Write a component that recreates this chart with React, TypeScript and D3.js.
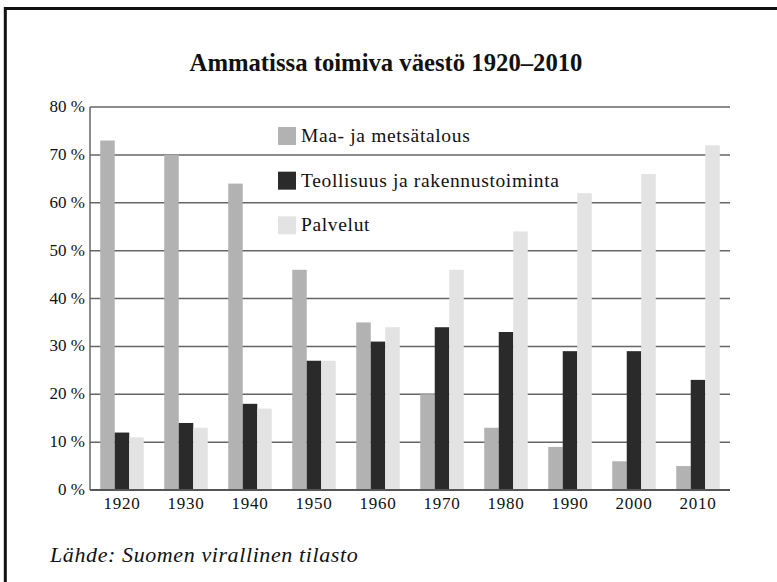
import * as d3 from "d3";

const years = ["1920", "1930", "1940", "1950", "1960", "1970", "1980", "1990", "2000", "2010"];
const seriesNames = ["Maa- ja metsätalous", "Teollisuus ja rakennustoiminta", "Palvelut"];
const maa = [73, 70, 64, 46, 35, 20, 13, 9, 6, 5];
const teollisuus = [12, 14, 18, 27, 31, 34, 33, 29, 29, 23];
const palvelut = [11, 13, 17, 27, 34, 46, 54, 62, 66, 72];
const yTicks = [0, 10, 20, 30, 40, 50, 60, 70, 80];
const colors = ["#b2b2b2", "#2a2a2a", "#e3e3e3"];

const W = 777;
const H = 582;
const serif = { fontFamily: "Liberation Serif, serif" };

export default function App() {
  const marginLeft = 90;
  const marginRight = 47;
  const marginTop = 107;
  const marginBottom = 92;

  const series = [maa, teollisuus, palvelut];

  const x = d3.scaleBand<string>().domain(years).range([marginLeft, W - marginRight]).paddingInner(0.32).paddingOuter(0.16);
  const xs = d3.scaleBand<number>().domain([0, 1, 2]).range([0, x.bandwidth()]);
  const y = d3.scaleLinear([0, 80], [H - marginBottom, marginTop]);

  const legendY = d3.scaleBand<number>().domain([0, 1, 2]).range([127, 261]);

  return (
    <svg width={W} height={H} style={{ position: "absolute", left: 0, top: 0, background: "#fff" }}>
      <path d={`M5.3,${H} V8.5 H${W}`} fill="none" stroke="#111" strokeWidth={3} />
      <text x={386} y={71} textAnchor="middle" fontSize={24.7} fontWeight="bold" fill="#111" style={serif}>
        Ammatissa toimiva väestö 1920–2010
      </text>

      {/* gridlines */}
      <g stroke="#666" strokeWidth={1.5}>
        {yTicks.map((t) => (
          <line key={t} x1={marginLeft} x2={W - marginRight} y1={y(t)} y2={y(t)} />
        ))}
        <line x1={marginLeft} x2={marginLeft} y1={y(80)} y2={y(0)} />
      </g>

      {/* bars */}
      {years.map((yr, i) => (
        <g key={yr} transform={`translate(${x(yr)},0)`}>
          {series.map((s, k) => (
            <rect key={k} x={xs(k)} y={y(s[i])} width={xs.bandwidth()} height={y(0) - y(s[i])} fill={colors[k]} />
          ))}
        </g>
      ))}

      <line x1={marginLeft} x2={W - marginRight} y1={y(0)} y2={y(0)} stroke="#555" strokeWidth={2} />

      {/* y labels */}
      <g fontSize={17} fill="#111" textAnchor="end">
        {yTicks.map((t) => (
          <text key={t} x={marginLeft - 5} y={y(t) + 5} style={serif}>
            {`${t} %`}
          </text>
        ))}
      </g>

      {/* x labels */}
      <g fontSize={17} fill="#111" textAnchor="middle">
        {years.map((yr) => (
          <text key={yr} x={(x(yr) ?? 0) + x.bandwidth() / 2} y={y(0) + 19} letterSpacing={0.8} style={serif}>
            {yr}
          </text>
        ))}
      </g>

      {/* legend */}
      {seriesNames.map((n, k) => (
        <g key={n} transform={`translate(278,${legendY(k)})`}>
          <rect x={0} y={0} width={18} height={18} fill={colors[k]} />
          <text x={23} y={15} fontSize={19.5} fill="#111" style={serif} letterSpacing={0.65}>
            {n}
          </text>
        </g>
      ))}

      <text x={50} y={562} fontSize={22} fontStyle="italic" fill="#111" style={serif} letterSpacing={0.6}>
        Lähde: Suomen virallinen tilasto
      </text>
    </svg>
  );
}
